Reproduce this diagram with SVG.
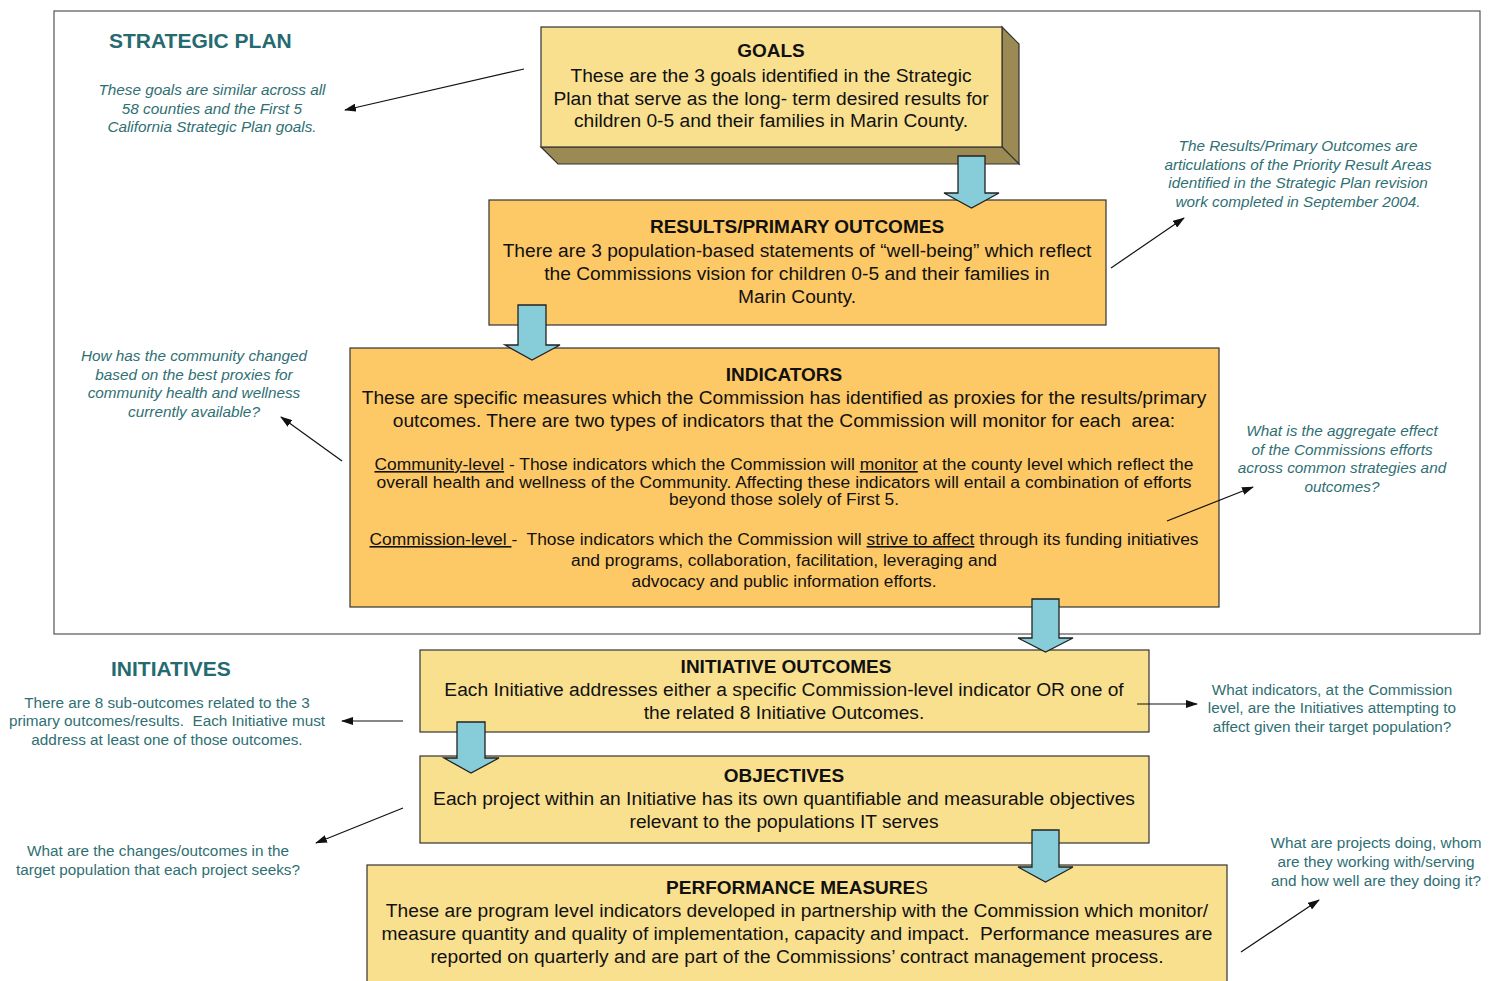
<svg xmlns="http://www.w3.org/2000/svg" width="1494" height="981" viewBox="0 0 1494 981" xml:space="preserve">
<defs>
<style>
.frame{fill:none;stroke:#555;stroke-width:1.2}
.bx{stroke:#333;stroke-width:1.2}
.lt{fill:#F9E08F}
.dk{fill:#FDC966}
.side{fill:#9C8A55;stroke:#333;stroke-width:1.2}
text{font-family:"Liberation Sans",Arial,sans-serif;white-space:pre}
.t{font-size:19.2px;fill:#111;text-anchor:middle}
.tb{font-size:19px;font-weight:bold;fill:#111;text-anchor:middle}
.ts{font-size:16px;fill:#111;text-anchor:middle}
.u{text-decoration:underline}
.h{font-size:21px;font-weight:bold;fill:#246A70}
.n{font-size:15.3px;fill:#2F6F73;text-anchor:middle}
.ni{font-size:15.3px;font-style:italic;fill:#2F6F73;text-anchor:middle}
.blk{fill:#87CDD9;stroke:#222;stroke-width:1.3;stroke-linejoin:miter}
.ln{fill:none;stroke:#111;stroke-width:1.2;marker-end:url(#ah)}
</style>
<marker id="ah" viewBox="0 0 12 8" refX="11" refY="4" markerWidth="12" markerHeight="8" markerUnits="userSpaceOnUse" orient="auto"><path d="M0,0 L12,4 L0,8 Z" fill="#111"/></marker>
</defs>
<rect class="frame" x="54" y="11" width="1426" height="623"/>
<g id="labels">
<text class="h" x="109" y="48">STRATEGIC PLAN</text>
<text class="h" x="111" y="676">INITIATIVES</text>
</g>
<g id="goals">
<polygon class="side" points="1002,27 1019,44 1019,164 1002,147"/>
<polygon class="side" points="541,147 1002,147 1019,164 558,164"/>
<rect class="bx lt" x="541" y="27" width="461" height="120"/>
<text class="tb" x="771" y="57">GOALS</text>
<text class="t" x="771" y="82">These are the 3 goals identified in the Strategic</text>
<text class="t" x="771" y="105">Plan that serve as the long- term desired results for</text>
<text class="t" x="771" y="127">children 0-5 and their families in Marin County.</text>
</g>
<g id="results">
<rect class="bx dk" x="489" y="200" width="617" height="125"/>
<text class="tb" x="797" y="233">RESULTS/PRIMARY OUTCOMES</text>
<text class="t" x="797" y="257">There are 3 population-based statements of “well-being” which reflect</text>
<text class="t" x="797" y="280">the Commissions vision for children 0-5 and their families in</text>
<text class="t" x="797" y="303">Marin County.</text>
</g>
<g id="indicators">
<rect class="bx dk" x="350" y="348" width="869" height="259"/>
<text class="tb" x="784" y="381">INDICATORS</text>
<text class="t" x="784" y="404">These are specific measures which the Commission has identified as proxies for the results/primary</text>
<text class="t" x="784" y="427">outcomes. There are two types of indicators that the Commission will monitor for each  area:</text>
<text class="ts" x="784" y="470" textLength="819" lengthAdjust="spacingAndGlyphs"><tspan class="u">Community-level</tspan> - Those indicators which the Commission will <tspan class="u">monitor</tspan> at the county level which reflect the</text>
<text class="ts" x="784" y="488" textLength="815" lengthAdjust="spacingAndGlyphs">overall health and wellness of the Community. Affecting these indicators will entail a combination of efforts</text>
<text class="ts" x="784" y="505" textLength="230" lengthAdjust="spacingAndGlyphs">beyond those solely of First 5.</text>
<text class="ts" x="784" y="545" textLength="829" lengthAdjust="spacingAndGlyphs"><tspan class="u">Commission-level </tspan>-  Those indicators which the Commission will <tspan class="u">strive to affect</tspan> through its funding initiatives</text>
<text class="ts" x="784" y="566" textLength="426" lengthAdjust="spacingAndGlyphs">and programs, collaboration, facilitation, leveraging and</text>
<text class="ts" x="784" y="587" textLength="305" lengthAdjust="spacingAndGlyphs">advocacy and public information efforts.</text>
</g>
<g id="initiative-outcomes">
<rect class="bx lt" x="420" y="650" width="729" height="82"/>
<text class="tb" x="786" y="673">INITIATIVE OUTCOMES</text>
<text class="t" x="784" y="696">Each Initiative addresses either a specific Commission-level indicator OR one of</text>
<text class="t" x="784" y="719">the related 8 Initiative Outcomes.</text>
</g>
<g id="objectives">
<rect class="bx lt" x="420" y="756" width="729" height="87"/>
<text class="tb" x="784" y="782">OBJECTIVES</text>
<text class="t" x="784" y="805">Each project within an Initiative has its own quantifiable and measurable objectives</text>
<text class="t" x="784" y="828">relevant to the populations IT serves</text>
</g>
<g id="performance-measures">
<rect class="bx lt" x="367" y="865" width="860" height="125"/>
<text class="tb" x="797" y="894">PERFORMANCE MEASURE<tspan font-weight="normal">S</tspan></text>
<text class="t" x="797" y="917">These are program level indicators developed in partnership with the Commission which monitor/</text>
<text class="t" x="797" y="940">measure quantity and quality of implementation, capacity and impact.  Performance measures are</text>
<text class="t" x="797" y="963">reported on quarterly and are part of the Commissions’ contract management process.</text>
</g>
<g id="note-goals">
<text class="ni" x="212" y="95">These goals are similar across all</text>
<text class="ni" x="212" y="114">58 counties and the First 5</text>
<text class="ni" x="212" y="132">California Strategic Plan goals.</text>
</g>
<g id="note-results">
<text class="ni" x="1298" y="151">The Results/Primary Outcomes are</text>
<text class="ni" x="1298" y="170">articulations of the Priority Result Areas</text>
<text class="ni" x="1298" y="188">identified in the Strategic Plan revision</text>
<text class="ni" x="1298" y="207">work completed in September 2004.</text>
</g>
<g id="note-community">
<text class="ni" x="194" y="361">How has the community changed</text>
<text class="ni" x="194" y="380">based on the best proxies for</text>
<text class="ni" x="194" y="398">community health and wellness</text>
<text class="ni" x="194" y="417">currently available?</text>
</g>
<g id="note-aggregate">
<text class="ni" x="1342" y="436">What is the aggregate effect</text>
<text class="ni" x="1342" y="455">of the Commissions efforts</text>
<text class="ni" x="1342" y="473">across common strategies and</text>
<text class="ni" x="1342" y="492">outcomes?</text>
</g>
<g id="note-sub-outcomes">
<text class="n" x="167" y="708">There are 8 sub-outcomes related to the 3</text>
<text class="n" x="167" y="726">primary outcomes/results.  Each Initiative must</text>
<text class="n" x="167" y="745">address at least one of those outcomes.</text>
</g>
<g id="note-indicators">
<text class="n" x="1332" y="695">What indicators, at the Commission</text>
<text class="n" x="1332" y="713">level, are the Initiatives attempting to</text>
<text class="n" x="1332" y="732">affect given their target population?</text>
</g>
<g id="note-changes">
<text class="n" x="158" y="856">What are the changes/outcomes in the</text>
<text class="n" x="158" y="875">target population that each project seeks?</text>
</g>
<g id="note-projects">
<text class="n" x="1376" y="848">What are projects doing, whom</text>
<text class="n" x="1376" y="867">are they working with/serving</text>
<text class="n" x="1376" y="886">and how well are they doing it?</text>
</g>
<g id="connectors">
<polygon class="blk" points="958,156 985,156 985,193 999,193 971.5,208 944,193 958,193"/>
<polygon class="blk" points="518,305 546,305 546,345 560,345 532,360 505,345 518,345"/>
<polygon class="blk" points="1032,599 1059,599 1059,638 1073,638 1045.5,652 1018,638 1032,638"/>
<polygon class="blk" points="457,722 485,722 485,758 499,758 471,773 444,758 457,758"/>
<polygon class="blk" points="1032,830 1059,830 1059,867 1073,867 1045.5,882 1018,867 1032,867"/>
<line class="ln" x1="524" y1="69" x2="345" y2="110"/>
<line class="ln" x1="1111" y1="268" x2="1184" y2="218"/>
<line class="ln" x1="342" y1="461" x2="281" y2="417"/>
<line class="ln" x1="1167" y1="521" x2="1253" y2="487"/>
<line class="ln" x1="403" y1="721" x2="342" y2="721"/>
<line class="ln" x1="1137" y1="704" x2="1197" y2="704"/>
<line class="ln" x1="403" y1="808" x2="316" y2="843"/>
<line class="ln" x1="1241" y1="952" x2="1319" y2="900"/>
</g>
</svg>
